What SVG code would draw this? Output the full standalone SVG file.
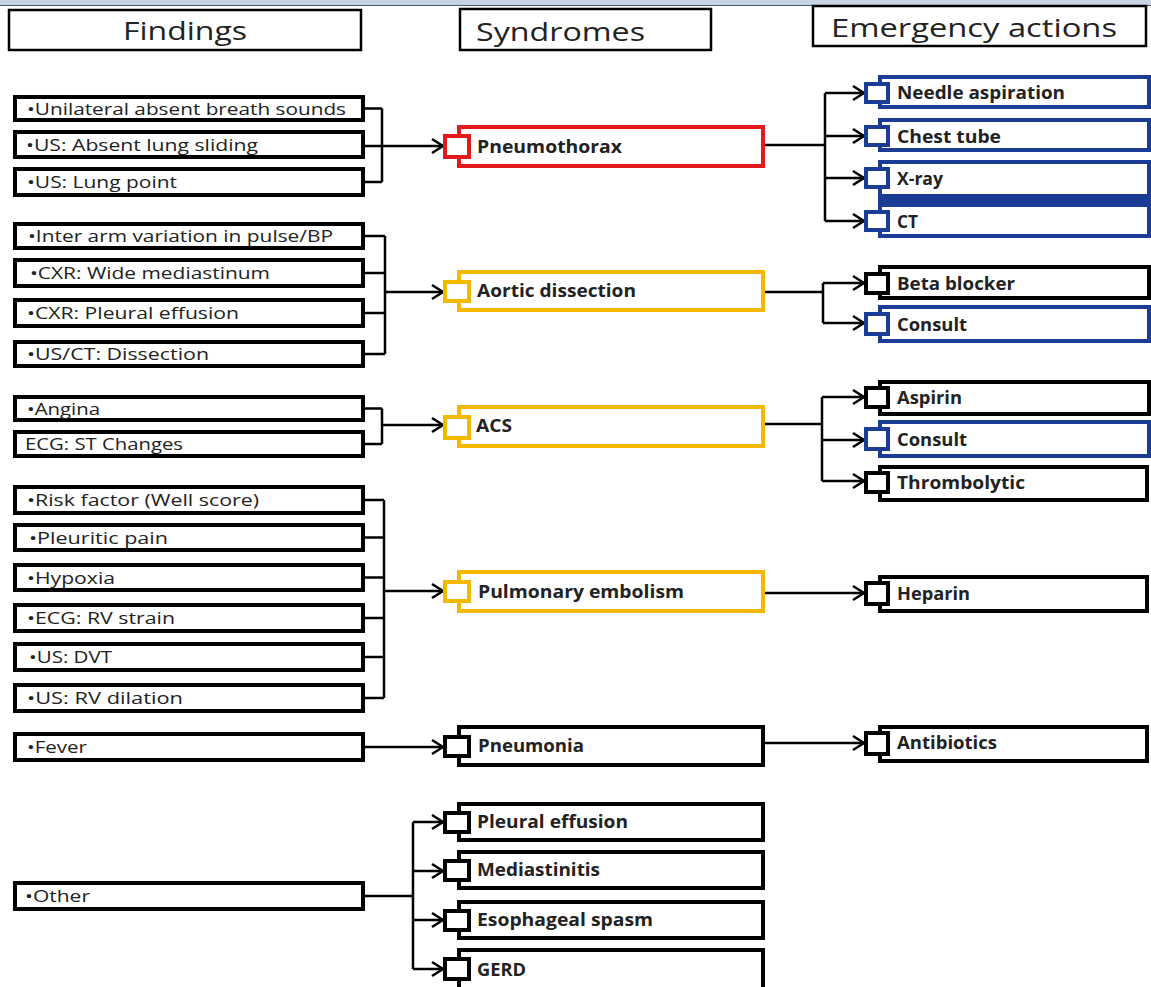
<svg xmlns="http://www.w3.org/2000/svg" width="1151" height="987" viewBox="0 0 1151 987">
<style>
.hdr rect{fill:#fff;stroke:#000;stroke-width:2.5}
.hdr text{font-family:"Open Sans","Liberation Sans",sans-serif;font-size:25px;fill:#222}
.fnd rect{fill:#fff;stroke:#000;stroke-width:4}
.fnd text{font-family:"Open Sans","Liberation Sans",sans-serif;font-size:17px;fill:#222}
.cmp rect{fill:#fff;stroke-width:4}
.cmp text{font-family:"Open Sans","Liberation Sans",sans-serif;font-size:17px;font-weight:700;fill:#222}
.red rect{stroke:#e3191b}
.yel rect{stroke:#f5b800}
.blu rect{stroke:#1b3c95}
.blk rect{stroke:#000}
.ln{fill:none;stroke:#000;stroke-width:2.5}
.ar{fill:none;stroke:#000;stroke-width:2.5;marker-end:url(#ah)}
</style>
<defs>
<marker id="ah" markerUnits="userSpaceOnUse" markerWidth="16" markerHeight="18" refX="13" refY="9" orient="auto">
<path d="M2,2 L13,9 L2,16" fill="none" stroke="#000" stroke-width="2.5"/>
</marker>
</defs>
<rect x="0" y="0" width="1151" height="987" fill="#fff"/>
<rect x="0" y="0" width="1151" height="5" fill="#c8d4e6"/>
<line x1="0" y1="5.5" x2="1151" y2="5.5" stroke="#4a5a7a" stroke-width="1"/>

<g id="headers" class="hdr">
<g id="h-findings"><rect x="9" y="10" width="352" height="40"/><text x="123" y="40" textLength="124" lengthAdjust="spacingAndGlyphs">Findings</text></g>
<g id="h-syndromes"><rect x="460" y="9" width="251" height="41"/><text x="476" y="41" textLength="169" lengthAdjust="spacingAndGlyphs">Syndromes</text></g>
<g id="h-actions"><rect x="813" y="6" width="333" height="40"/><text x="831" y="37" textLength="286" lengthAdjust="spacingAndGlyphs">Emergency actions</text></g>
</g>

<g id="connectors">
<path class="ln" d="M365,108.5 H382 M365,182 H382 M382,108.5 V182"/>
<path class="ar" d="M365,146 H443"/>
<path class="ln" d="M365,236 H385 M365,273 H385 M365,313 H385 M365,354 H385 M385,236 V354"/>
<path class="ar" d="M385,292 H443"/>
<path class="ln" d="M365,408.5 H382 M365,444 H382 M382,408.5 V444"/>
<path class="ar" d="M382,425 H443"/>
<path class="ln" d="M365,500 H384 M365,537.5 H384 M365,577.5 H384 M365,618 H384 M365,657 H384 M365,698 H384 M384,500 V698"/>
<path class="ar" d="M384,591 H443"/>
<path class="ar" d="M365,747 H443"/>
<path class="ln" d="M365,896 H413 M413,822 V969"/>
<path class="ar" d="M413,822 H443"/>
<path class="ar" d="M413,871 H443"/>
<path class="ar" d="M413,920 H443"/>
<path class="ar" d="M413,969 H443"/>
<path class="ln" d="M765,145 H825 M825,93 V221"/>
<path class="ar" d="M825,93 H864"/>
<path class="ar" d="M825,136 H864"/>
<path class="ar" d="M825,178 H864"/>
<path class="ar" d="M825,221 H864"/>
<path class="ln" d="M765,292 H823 M823,283 V323"/>
<path class="ar" d="M823,283 H864"/>
<path class="ar" d="M823,323 H864"/>
<path class="ln" d="M765,424 H822 M822,397 V481"/>
<path class="ar" d="M822,397 H864"/>
<path class="ar" d="M822,440 H864"/>
<path class="ar" d="M822,481 H864"/>
<path class="ar" d="M765,593 H864"/>
<path class="ar" d="M765,743 H864"/>
</g>

<g id="findings" class="fnd">
<g id="f1"><rect x="15" y="97" width="348" height="23"/><text x="27" y="114.5" textLength="319" lengthAdjust="spacingAndGlyphs">•Unilateral absent breath sounds</text></g>
<g id="f2"><rect x="15" y="132" width="348" height="25"/><text x="26" y="151" textLength="232" lengthAdjust="spacingAndGlyphs">•US: Absent lung sliding</text></g>
<g id="f3"><rect x="15" y="169" width="348" height="26"/><text x="27" y="188" textLength="150" lengthAdjust="spacingAndGlyphs">•US: Lung point</text></g>
<g id="f4"><rect x="15" y="224" width="348" height="24"/><text x="28" y="242" textLength="305" lengthAdjust="spacingAndGlyphs">•Inter arm variation in pulse/BP</text></g>
<g id="f5"><rect x="15" y="260" width="348" height="26"/><text x="30" y="279" textLength="240" lengthAdjust="spacingAndGlyphs">•CXR: Wide mediastinum</text></g>
<g id="f6"><rect x="15" y="300" width="348" height="26"/><text x="27" y="319" textLength="212" lengthAdjust="spacingAndGlyphs">•CXR: Pleural effusion</text></g>
<g id="f7"><rect x="15" y="342" width="348" height="24"/><text x="27" y="360" textLength="182" lengthAdjust="spacingAndGlyphs">•US/CT: Dissection</text></g>
<g id="f8"><rect x="15" y="397" width="348" height="23"/><text x="27" y="414.5" textLength="73" lengthAdjust="spacingAndGlyphs">•Angina</text></g>
<g id="f9"><rect x="15" y="432" width="348" height="24"/><text x="25" y="450" textLength="158" lengthAdjust="spacingAndGlyphs">ECG: ST Changes</text></g>
<g id="f10"><rect x="15" y="487" width="348" height="26"/><text x="27" y="506" textLength="232" lengthAdjust="spacingAndGlyphs">•Risk factor (Well score)</text></g>
<g id="f11"><rect x="15" y="525" width="348" height="25"/><text x="29" y="543.5" textLength="139" lengthAdjust="spacingAndGlyphs">•Pleuritic pain</text></g>
<g id="f12"><rect x="15" y="565" width="348" height="25"/><text x="27" y="583.5" textLength="88" lengthAdjust="spacingAndGlyphs">•Hypoxia</text></g>
<g id="f13"><rect x="15" y="605" width="348" height="26"/><text x="27" y="624" textLength="148" lengthAdjust="spacingAndGlyphs">•ECG: RV strain</text></g>
<g id="f14"><rect x="15" y="644" width="348" height="26"/><text x="29" y="663" textLength="83" lengthAdjust="spacingAndGlyphs">•US: DVT</text></g>
<g id="f15"><rect x="15" y="685" width="348" height="26"/><text x="27" y="704" textLength="156" lengthAdjust="spacingAndGlyphs">•US: RV dilation</text></g>
<g id="f16"><rect x="15" y="734" width="348" height="26"/><text x="27" y="753" textLength="60" lengthAdjust="spacingAndGlyphs">•Fever</text></g>
<g id="f17"><rect x="15" y="883" width="348" height="26"/><text x="25" y="902" textLength="65" lengthAdjust="spacingAndGlyphs">•Other</text></g>
</g>

<g id="syndromes" class="cmp">
<g id="s-pneumothorax" class="red"><rect x="459" y="127" width="304" height="39"/><rect x="445" y="136" width="24" height="21"/><text x="477" y="153" textLength="145" lengthAdjust="spacingAndGlyphs">Pneumothorax</text></g>
<g id="s-aortic" class="yel"><rect x="459" y="272" width="304" height="38"/><rect x="445" y="282" width="24" height="19"/><text x="477" y="297" textLength="159" lengthAdjust="spacingAndGlyphs">Aortic dissection</text></g>
<g id="s-acs" class="yel"><rect x="459" y="407" width="304" height="39"/><rect x="445" y="417" width="24" height="21"/><text x="476" y="432" textLength="36" lengthAdjust="spacingAndGlyphs">ACS</text></g>
<g id="s-pe" class="yel"><rect x="459" y="572" width="304" height="39"/><rect x="445" y="582" width="24" height="19"/><text x="478" y="598" textLength="206" lengthAdjust="spacingAndGlyphs">Pulmonary embolism</text></g>
<g id="s-pneumonia" class="blk"><rect x="459" y="727" width="304" height="38"/><rect x="445" y="737" width="24" height="19"/><text x="478" y="752" textLength="106" lengthAdjust="spacingAndGlyphs">Pneumonia</text></g>
<g id="s-pleural" class="blk"><rect x="459" y="804" width="304" height="36"/><rect x="445" y="813" width="24" height="19"/><text x="477" y="828" textLength="151" lengthAdjust="spacingAndGlyphs">Pleural effusion</text></g>
<g id="s-mediastinitis" class="blk"><rect x="459" y="852" width="304" height="36"/><rect x="445" y="861" width="24" height="19"/><text x="477" y="876" textLength="123" lengthAdjust="spacingAndGlyphs">Mediastinitis</text></g>
<g id="s-esophageal" class="blk"><rect x="459" y="902" width="304" height="36"/><rect x="445" y="911" width="24" height="19"/><text x="477" y="926" textLength="176" lengthAdjust="spacingAndGlyphs">Esophageal  spasm</text></g>
<g id="s-gerd" class="blk"><rect x="459" y="950" width="304" height="45"/><rect x="445" y="959" width="24" height="20"/><text x="477" y="976" textLength="49" lengthAdjust="spacingAndGlyphs">GERD</text></g>
</g>

<g id="actions" class="cmp">
<g id="a-needle" class="blu"><rect x="880" y="77" width="269" height="30"/><rect x="866" y="84" width="22" height="18"/><text x="897" y="99" textLength="168" lengthAdjust="spacingAndGlyphs">Needle aspiration</text></g>
<g id="a-chest" class="blu"><rect x="880" y="120" width="269" height="30"/><rect x="866" y="127" width="22" height="18"/><text x="897" y="143" textLength="104" lengthAdjust="spacingAndGlyphs">Chest tube</text></g>
<g id="a-xray" class="blu"><rect x="880" y="162" width="269" height="35"/><rect x="878" y="194" width="273" height="10" style="fill:#1b3c95;stroke:none"/><rect x="866" y="169" width="22" height="18"/><text x="897" y="185" textLength="46" lengthAdjust="spacingAndGlyphs">X-ray</text></g>
<g id="a-ct" class="blu"><rect x="880" y="205" width="269" height="31"/><rect x="866" y="212" width="22" height="18"/><text x="897" y="228" textLength="21" lengthAdjust="spacingAndGlyphs">CT</text></g>
<g id="a-beta" class="blk"><rect x="880" y="267" width="269" height="31"/><rect x="866" y="274" width="22" height="19"/><text x="897" y="290" textLength="118" lengthAdjust="spacingAndGlyphs">Beta blocker</text></g>
<g id="a-consult1" class="blu"><rect x="880" y="307" width="269" height="34"/><rect x="866" y="314" width="22" height="20"/><text x="897" y="331" textLength="70" lengthAdjust="spacingAndGlyphs">Consult</text></g>
<g id="a-aspirin" class="blk"><rect x="880" y="382" width="269" height="32"/><rect x="866" y="388" width="22" height="19"/><text x="897" y="404" textLength="65" lengthAdjust="spacingAndGlyphs">Aspirin</text></g>
<g id="a-consult2" class="blu"><rect x="880" y="422" width="269" height="34"/><rect x="866" y="429" width="22" height="20"/><text x="897" y="446" textLength="70" lengthAdjust="spacingAndGlyphs">Consult</text></g>
<g id="a-thrombolytic" class="blk"><rect x="880" y="467" width="267" height="33"/><rect x="866" y="473" width="22" height="19"/><text x="897" y="489" textLength="128" lengthAdjust="spacingAndGlyphs">Thrombolytic</text></g>
<g id="a-heparin" class="blk"><rect x="880" y="577" width="267" height="34"/><rect x="866" y="583" width="22" height="21"/><text x="897" y="600" textLength="73" lengthAdjust="spacingAndGlyphs">Heparin</text></g>
<g id="a-antibiotics" class="blk"><rect x="880" y="727" width="267" height="34"/><rect x="866" y="733" width="22" height="21"/><text x="897" y="749" textLength="100" lengthAdjust="spacingAndGlyphs">Antibiotics</text></g>
</g>
</svg>
